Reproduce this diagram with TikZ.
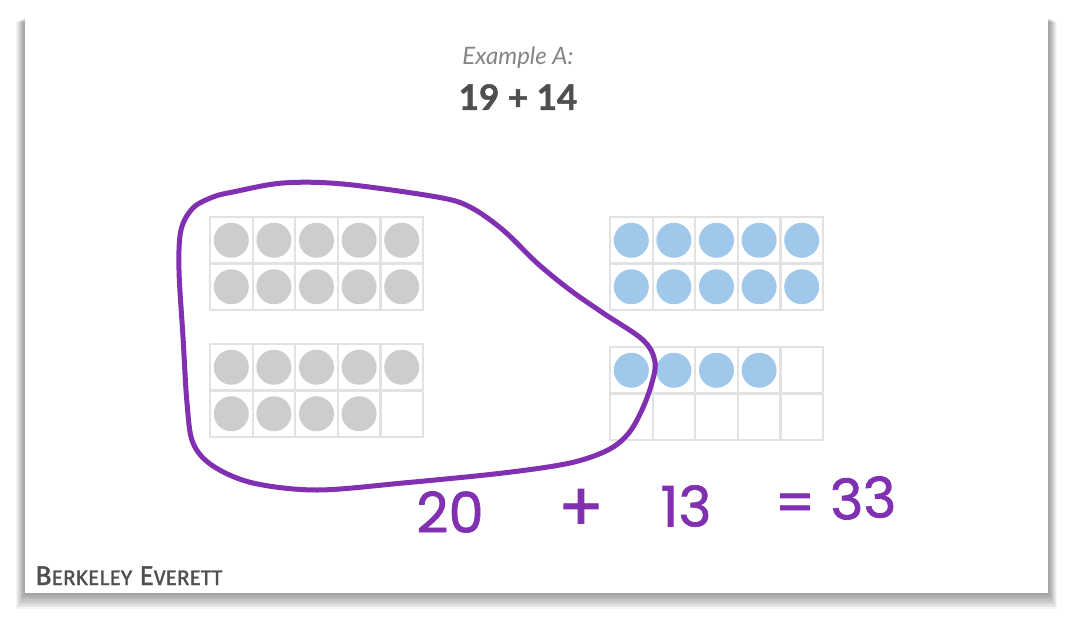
\documentclass[tikz,border=0pt]{standalone}
\usepackage{fontspec}
\setmainfont{Lato}[BoldFeatures={FakeBold=1.4}]
\newfontfamily\handfont{Poppins}[FakeBold=1.2]
\newfontfamily\signfont{Fira Sans}[FakeBold=1.6]
\definecolor{gridgray}{HTML}{E2E2E2}
\definecolor{dotgray}{HTML}{CDCDCD}
\definecolor{dotblue}{HTML}{9FC8EA}
\definecolor{pen}{HTML}{8130B2}
\definecolor{titlegray}{HTML}{858585}
\definecolor{sumgray}{HTML}{4F4F4F}
\begin{document}
\begin{tikzpicture}[x=1pt,y=-1pt]
    \tikzstyle{cellbox}=[draw=gridgray, line width=2.2pt]
    \tikzstyle{ink}=[draw=pen, line width=5pt, line cap=round, line join=round]
    \tikzstyle{scribble}=[text=pen, inner sep=0pt, font=\handfont\fontsize{56}{56}\selectfont]
    \useasboundingbox (0,0) rectangle (1071,616);
    % the slide and its shadow
    \foreach \s in {1,...,10}
        \fill[black, opacity=0.045] (25-\s*0.9, 18+\s*0.4) rectangle (1048+\s*0.9, 593+\s*1.6);
    \fill[white] (25,18) rectangle (1048,593);
    \node[text=titlegray, font=\itshape\fontsize{24}{24}\selectfont] (title) at (518,58) {Example A:};
    \node[text=sumgray, font=\bfseries\fontsize{35}{35}\selectfont]   (sum)   at (518,97) {19 + 14};
    % ten frames
    \foreach \fx/\fy/\n/\dotc in {210/217/10/dotgray, 210/344/9/dotgray, 610/217/10/dotblue, 610/347/4/dotblue} {
        \foreach \c in {0,...,4}
            \foreach \r in {0,1}
                \draw[cellbox] (\fx+\c*42.6, \fy+\r*46.5) rectangle ++(42.6,46.5);
        \foreach \k in {1,...,\n} {
            \pgfmathtruncatemacro\col{mod(\k-1,5)}
            \pgfmathtruncatemacro\row{(\k-1)/5}
            \fill[\dotc] (\fx+\col*42.6+21.3, \fy+\row*46.5+23.25) circle (17.5pt);
        }
    }
    % the loop round twenty
    \draw[ink] plot[smooth cycle, tension=0.55] coordinates {
        (233,192) (283,183) (343,184) (437,197) (470,207) (503,230) (537,263)
        (570,290) (603,313) (643,340) (655,362) (651,386) (641,412) (628,434)
        (608,450) (570,463) (503,473) (403,483) (317,490) (253,483) (213,466)
        (193,443) (187,403) (183,337) (179,270) (181,230) (193,208) (213,197)};
    \node[scribble]           (twenty) at (450,512) {20};
    \node[scribble, scale=1.2](plus)   at (581,510) {+};
    \node[scribble]           (thirt)  at (686,506) {13};
    \node[scribble]           (equals) at (795,508) {=};
    \node[scribble, rotate=3] (total)  at (863,498) {33};
    \node[anchor=base west, inner sep=0pt, text=sumgray] (sign) at (35,585)
        {\signfont\fontsize{27}{27}\selectfont B\fontsize{21}{21}\selectfont ERKELEY\fontsize{27}{27}\selectfont\ E\fontsize{21}{21}\selectfont VERETT};
\end{tikzpicture}
\end{document}
